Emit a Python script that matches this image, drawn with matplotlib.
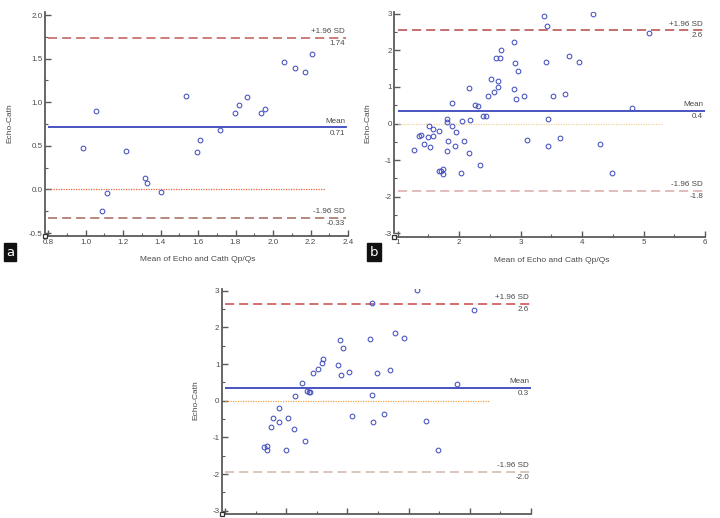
import matplotlib
matplotlib.use("Agg")
import matplotlib.pyplot as plt
from matplotlib.ticker import MultipleLocator, FormatStrFormatter
from matplotlib.transforms import offset_copy

plt.rcParams['font.family'] = ['Liberation Sans', 'DejaVu Sans']
plt.rcParams['axes.unicode_minus'] = False

# ---------------- data ----------------
a_x = [0.985, 1.056, 1.088, 1.113, 1.214, 1.316, 1.326, 1.404, 1.534, 1.596, 1.612,
       1.716, 1.797, 1.819, 1.861, 1.938, 1.959, 2.06, 2.116, 2.171, 2.21]
a_y = [0.473, 0.90, -0.244, -0.038, 0.435, 0.13, 0.069, -0.027, 1.076, 0.431, 0.565,
       0.679, 0.878, 0.973, 1.065, 0.878, 0.924, 1.466, 1.397, 1.347, 1.55]
a_lines = [1.74, 0.71, -0.33]          # +1.96 SD, mean, -1.96 SD
a_line_labels = ["1.74", "0.71", "-0.33"]

b_x = [1.266, 1.352, 1.38, 1.43, 1.49, 1.515, 1.526, 1.57, 1.58, 1.68, 1.68, 1.705,
       1.743, 1.743, 1.80, 1.80, 1.81, 1.82, 1.89, 1.88, 1.93, 1.95, 2.03, 2.04, 2.08,
       2.155, 2.166, 2.177, 2.26, 2.30, 2.34, 2.38, 2.44, 2.475, 2.52, 2.57, 2.63, 2.63,
       2.60, 2.66, 2.68, 2.89, 2.89, 2.91, 2.925, 2.95, 3.06, 3.11, 3.38, 3.41, 3.43,
       3.44, 3.45, 3.52, 3.64, 3.73, 3.79, 3.95, 4.17, 4.29, 4.49, 4.82, 5.09]
b_y = [-0.72, -0.33, -0.30, -0.57, -0.36, -0.08, -0.64, -0.14, -0.33, -0.20, -1.29, -1.29,
       -1.24, -1.37, -0.74, 0.13, 0.03, -0.49, 0.57, -0.08, -0.60, -0.22, -1.34, 0.07, -0.49,
       0.96, -0.81, 0.10, 0.50, 0.47, -1.12, 0.21, 0.21, 0.75, 1.23, 0.85, 1.15, 1.00,
       1.78, 1.78, 2.01, 2.24, 0.94, 1.65, 0.67, 1.45, 0.76, -0.44, 2.95, 1.67, 2.67,
       0.13, -0.61, 0.75, -0.39, 0.81, 1.84, 1.69, 3.00, -0.55, -1.34, 0.42, 2.47]
b_lines = [2.55, 0.35, -1.83]
b_line_labels = ["2.6", "0.4", "-1.8"]

c_x = [1.63, 1.68, 1.69, 1.75, 1.78, 1.89, 1.89, 1.99, 2.03, 2.12, 2.14, 2.26, 2.30,
       2.34, 2.37, 2.39, 2.44, 2.52, 2.59, 2.60, 2.85, 2.88, 2.89, 2.92, 3.03, 3.08,
       3.37, 3.40, 3.41, 3.42, 3.48, 3.60, 3.70, 3.77, 3.92, 4.14, 4.28, 4.48, 4.79, 5.07]
c_y = [-1.26, -1.23, -1.33, -0.72, -0.48, -0.19, -0.58, -1.33, -0.48, -0.78, 0.13, 0.49,
       -1.10, 0.27, 0.25, 0.23, 0.77, 0.86, 1.02, 1.15, 0.97, 1.66, 0.69, 1.45, 0.78, -0.42,
       1.68, 2.68, 0.15, -0.58, 0.77, -0.36, 0.85, 1.85, 1.70, 3.01, -0.54, -1.33, 0.45, 2.48]
c_lines = [2.64, 0.345, -1.95]
c_line_labels = ["2.6", "0.3", "-2.0"]

upper_name = "+1.96 SD"
mean_name = "Mean"
lower_name = "-1.96 SD"
xlabel = "Mean of Echo and Cath Qp/Qs"
ylabel = "Echo-Cath"

# ---------------- figure ----------------
W, H = 720, 518
fig = plt.figure(figsize=(7.2, 5.18), dpi=100)

def fig_rect(x0, x1, ytop, ybot):
    return [x0 / W, 1 - ybot / H, (x1 - x0) / W, (ybot - ytop) / H]

axis_col = '#5a5a5a'
text_col = '#4a4a4a'
mark_col = '#4450c0'
mean_col = '#3a46bc'
fs_tick = 5.8
fs_lab = 6.0


def style_axes(ax, xmaj, xmin, ymaj, ymin, fmt_x, fmt_y, ylab_x, xlab_y, show_xlabel=True):
    for s in ['top', 'right']:
        ax.spines[s].set_visible(False)
    for s in ['left', 'bottom']:
        ax.spines[s].set_position(('outward', 2.5))
        ax.spines[s].set_color(axis_col)
        ax.spines[s].set_linewidth(1.3)
    ax.xaxis.set_major_locator(MultipleLocator(xmaj))
    ax.xaxis.set_minor_locator(MultipleLocator(xmin))
    ax.yaxis.set_major_locator(MultipleLocator(ymaj))
    ax.yaxis.set_minor_locator(MultipleLocator(ymin))
    ax.xaxis.set_major_formatter(FormatStrFormatter(fmt_x))
    ax.yaxis.set_major_formatter(FormatStrFormatter(fmt_y))
    ax.tick_params(which='major', direction='in', length=4, width=1.0, color=axis_col,
                   labelsize=fs_tick, labelcolor=text_col, pad=1.5)
    ax.tick_params(which='minor', direction='in', length=2, width=0.8, color=axis_col)
    ax.set_ylabel(ylabel, fontsize=fs_lab, color=text_col)
    ax.yaxis.set_label_coords(ylab_x, 0.5)
    if show_xlabel:
        ax.set_xlabel(xlabel, fontsize=fs_lab, color=text_col)
        ax.xaxis.set_label_coords(0.5, xlab_y)
    else:
        ax.tick_params(axis='x', which='both', labelbottom=False)
    # small square at axes corner
    tr = offset_copy(ax.transAxes, fig=fig, x=-2.5, y=-2.5, units='points')
    ax.plot([0], [0], marker='s', ms=3.2, mfc='white', mec='#333333', mew=0.9,
            transform=tr, clip_on=False, zorder=5)


def draw_panel(ax, xs, ys, lines, labels, x0, xend_lines, xend_zero, xlab_pos,
               up_col, low_col, zero_col):
    ax.plot(xs, ys, linestyle='none', marker='o', ms=3.4, mfc='none', mec=mark_col,
            mew=0.75, zorder=4)
    up, mn, lo = lines
    ax.plot([x0, xend_lines], [up, up], color=up_col, lw=1.1, dashes=(6, 3.2), zorder=2)
    ax.plot([x0, xend_lines], [lo, lo], color=low_col, lw=1.1, dashes=(6, 3.2), zorder=2)
    ax.plot([x0, xend_lines], [mn, mn], color=mean_col, lw=1.3, zorder=3)
    ax.plot([x0, xend_zero], [0, 0], color=zero_col, lw=0.9, dashes=(1, 1), zorder=2)
    for val, name, lab in zip(lines, [upper_name, mean_name, lower_name], labels):
        ax.annotate(name, (xlab_pos, val), xytext=(0, 2.0), textcoords='offset points',
                    ha='right', va='bottom', fontsize=fs_tick, color=text_col)
        ax.annotate(lab, (xlab_pos, val), xytext=(0, -1.5), textcoords='offset points',
                    ha='right', va='top', fontsize=fs_tick, color=text_col)


# panel a
ax_a = fig.add_axes(fig_rect(48, 348, 12.4, 233))
ax_a.set_xlim(0.8, 2.4)
ax_a.set_ylim(-0.5, 2.03)
draw_panel(ax_a, a_x, a_y, a_lines, a_line_labels, 0.8, 2.39, 2.28, 2.385,
           '#bf5a55', '#a2685f', '#e8653f')
style_axes(ax_a, 0.2, 0.1, 0.5, 0.25, '%.1f', '%.1f', -0.115, -0.105)

# panel b
ax_b = fig.add_axes(fig_rect(397.7, 705, 12, 233.3))
ax_b.set_xlim(1, 6)
ax_b.set_ylim(-3, 3.05)
draw_panel(ax_b, b_x, b_y, b_lines, b_line_labels, 1, 6, 5.32, 5.97,
           '#b44848', '#d8aaa8', '#f2d39a')
style_axes(ax_b, 1, 0.5, 1, 0.5, '%d', '%d', -0.086, -0.105)

# panel c (its x tick labels fall below the picture's bottom edge)
ax_c = fig.add_axes(fig_rect(225, 531, 289, 510.7))
ax_c.set_xlim(1, 6)
ax_c.set_ylim(-3, 3.05)
draw_panel(ax_c, c_x, c_y, c_lines, c_line_labels, 1, 6, 5.31, 5.97,
           '#c84848', '#d4b4ac', '#f0a548')
style_axes(ax_c, 1, 0.5, 1, 0.5, '%d', '%d', -0.083, -0.105, show_xlabel=False)

# panel letters
for letter, x, y in [('a', 10, 252), ('b', 374, 252)]:
    fig.text(x / W, 1 - y / H, letter, ha='center', va='center', fontsize=9.5,
             color='white', family=['DejaVu Sans'],
             bbox=dict(boxstyle='square,pad=0.18', fc='#111111', ec='#111111'))

fig.savefig('out.png', dpi=100)
